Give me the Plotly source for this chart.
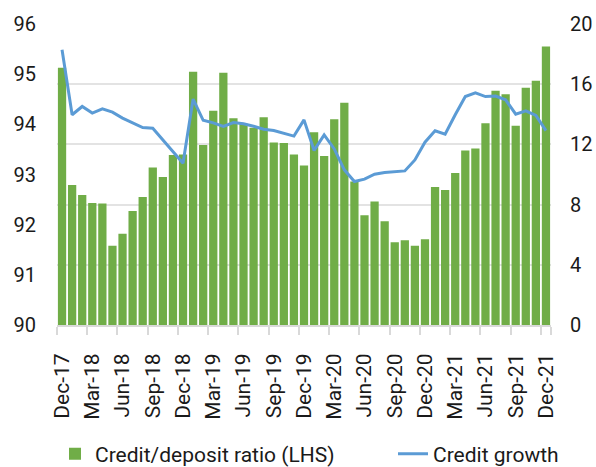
import pandas as pd
import plotly.graph_objects as go

months = pd.date_range("2017-12-01", "2021-12-01", freq="MS").strftime("%b-%y").tolist()

credit_deposit_ratio = [
    95.13, 92.79, 92.59, 92.43, 92.42, 91.58, 91.82, 92.27, 92.55, 93.14,
    92.95, 93.39, 93.40, 95.05, 93.59, 94.27, 95.03, 94.12, 94.01, 93.93,
    94.14, 93.64, 93.63, 93.40, 93.18, 93.84, 93.37, 94.10, 94.43, 92.86,
    92.19, 92.46, 92.07, 91.65, 91.69, 91.58, 91.71, 92.75, 92.69, 93.03,
    93.48, 93.52, 94.02, 94.67, 94.60, 93.97, 94.73, 94.87, 95.55,
]

credit_growth = [
    18.29, 13.97, 14.52, 14.08, 14.36, 14.14, 13.75, 13.41, 13.12, 13.08,
    12.30, 11.52, 10.75, 15.01, 13.60, 13.43, 13.19, 13.45, 13.37, 13.21,
    13.01, 12.92, 12.75, 12.55, 13.63, 11.60, 12.63, 11.70, 10.31, 9.53,
    9.69, 10.02, 10.13, 10.17, 10.24, 10.97, 12.15, 12.90, 12.68, 13.97,
    15.18, 15.43, 15.18, 15.21, 14.96, 14.01, 14.23, 13.92, 12.92,
]

left_ticks = [90, 91, 92, 93, 94, 95, 96]
right_ticks = [0, 4, 8, 12, 16, 20]

FONT = "Roboto"
TXT = "#1a1a1a"
W, H = 596, 467

fig = go.Figure()
fig.add_trace(go.Bar(
    x=months, y=credit_deposit_ratio, name="Credit/deposit ratio (LHS)",
    marker=dict(color="#70AD47", line=dict(width=0)), yaxis="y", legend="legend",
))
fig.add_trace(go.Scatter(
    x=months, y=credit_growth, name="Credit growth", mode="lines",
    line=dict(color="#5B9BD5", width=3), yaxis="y2", legend="legend2",
))

leg_common = dict(orientation="h", xref="container", yref="container",
                  xanchor="left", yanchor="middle", y=(H - 454) / H,
                  font=dict(size=21, color=TXT), bgcolor="rgba(0,0,0,0)")

fig.update_layout(
    width=W, height=H,
    margin=dict(l=57, r=45, t=24, b=142, autoexpand=False),
    paper_bgcolor="white", plot_bgcolor="white",
    font=dict(family=FONT, size=20, color=TXT),
    bargap=0.18,
    showlegend=True,
    legend=dict(x=55 / W, **leg_common),
    legend2=dict(x=393 / W, **leg_common),
    xaxis=dict(
        type="category", tickangle=-90, tickmode="array",
        tickvals=months[::3], ticktext=months[::3],
        tickson="boundaries", ticks="outside", ticklen=8, tickcolor="#D9D9D9", tickwidth=2,
        showline=True, linecolor="#D9D9D9", linewidth=2,
        showgrid=False, tickfont=dict(size=21, color=TXT),
        ticklabelstandoff=18, automargin=False,
    ),
    yaxis=dict(
        range=[90, 96], tickvals=left_ticks, showgrid=False, zeroline=False,
        showline=False, ticks="", tickfont=dict(size=20, color=TXT),
        ticklabelstandoff=20, automargin=False,
    ),
    yaxis2=dict(
        range=[0, 20], tickvals=right_ticks, overlaying="y", side="right",
        showgrid=True, gridcolor="#E3E3E3", gridwidth=1.5, zeroline=False,
        showline=False, ticks="", tickfont=dict(size=20, color=TXT),
        ticklabelstandoff=18, automargin=False,
    ),
)

fig.write_html(
    "out.html",
    config={"displayModeBar": False},
    post_script="document.body.style.margin='0';document.body.style.overflow='hidden';",
)
